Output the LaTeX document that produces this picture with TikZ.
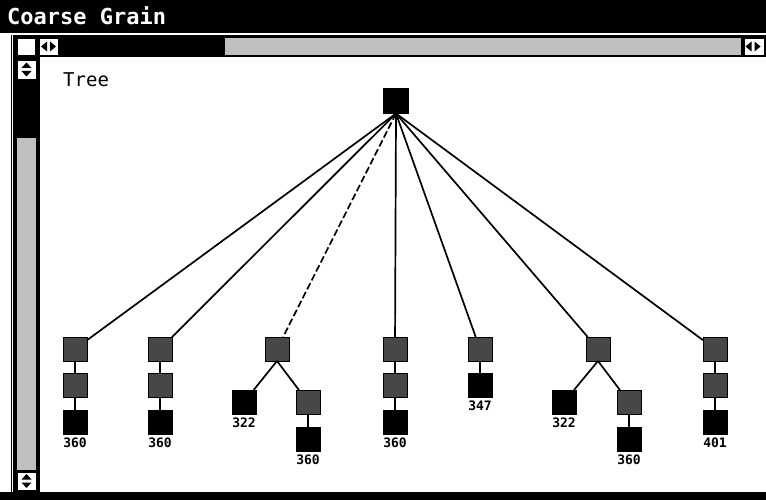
\documentclass[tikz,border=0pt]{standalone}
\usepackage{fontspec}
\newfontfamily\monofam{DejaVu Sans Mono}
\begin{document}
\begin{tikzpicture}[x=1pt,y=-1pt,
  box/.style={draw=black,line width=0.8pt,minimum size=24pt,inner sep=0pt,outer sep=0pt},
  blk/.style={box,fill=black},
  dith/.style={box,fill=black!72},
  lbl/.style={font=\monofam\bfseries\fontsize{13}{13}\selectfont,inner sep=0pt},
  edge/.style={line width=1.7pt},
  track/.style={fill=black!25},
  sbox/.style={fill=white,draw=black,line width=0.6pt},
  tri/.style={fill=black}]
\useasboundingbox (0,0) rectangle (766,500);
\fill[white] (0,0) rectangle (766,500);
% title bar
\fill[black] (0,0) rectangle (766,33);
\node[anchor=west,text=white,font=\monofam\bfseries\fontsize{22}{22}\selectfont,inner sep=0pt] (title) at (7,16) {Coarse Grain};
% horizontal scrollbar
\fill[black] (13,35) rectangle (766,57);
\draw[sbox] (17,38) rectangle (35,55);
\draw[sbox] (39,38) rectangle (58,55);
\fill[tri] (41,46.5) -- (47,41.5) -- (47,51.5) -- cycle;
\fill[tri] (50,41.5) -- (56,46.5) -- (50,51.5) -- cycle;
\fill[track] (225,38) rectangle (741,55);
\draw[sbox] (744,38) rectangle (764,55);
\fill[tri] (745.5,46.5) -- (751.5,41.5) -- (751.5,51.5) -- cycle;
\fill[tri] (754.5,41.5) -- (760.5,46.5) -- (754.5,51.5) -- cycle;
% vertical scrollbar
\fill[black] (13,57) rectangle (40,500);
\draw[line width=1pt] (11,35) -- (11,500);
\draw[sbox] (17,60) rectangle (36,79);
\fill[tri] (21.5,68) -- (26.5,62.5) -- (31.5,68) -- cycle;
\fill[tri] (21.5,71) -- (26.5,76.5) -- (31.5,71) -- cycle;
\fill[track] (17,138) rectangle (36,470);
\draw[sbox] (17,472) rectangle (36,490);
\fill[tri] (21.5,479.5) -- (26.5,474) -- (31.5,479.5) -- cycle;
\fill[tri] (21.5,482.5) -- (26.5,488) -- (31.5,482.5) -- cycle;
% bottom band
\fill[black] (0,492) rectangle (766,500);
% label
\node[anchor=west,font=\monofam\fontsize{19}{19}\selectfont,inner sep=0pt] (tree) at (63,80) {Tree};
% tree
\node[blk,minimum size=25pt] (r) at (396,101) {};
\node[dith] (a1) at (75,349) {};
\node[dith] (a2) at (160,349) {};
\node[dith] (a3) at (277,349) {};
\node[dith] (a4) at (395,349) {};
\node[dith] (a5) at (480,349) {};
\node[dith] (a6) at (598,349) {};
\node[dith] (a7) at (715,349) {};
\node[dith] (b1) at (75,385) {};
\node[blk,label={[lbl,label distance=4pt]below:360}] (c1) at (75,422) {};
\node[dith] (b2) at (160,385) {};
\node[blk,label={[lbl,label distance=4pt]below:360}] (c2) at (160,422) {};
\node[blk,label={[lbl,label distance=4pt]below:322}] (b3l) at (244,402) {};
\node[dith] (b3r) at (308,402) {};
\node[blk,label={[lbl,label distance=4pt]below:360}] (c3) at (308,439) {};
\node[dith] (b4) at (395,385) {};
\node[blk,label={[lbl,label distance=4pt]below:360}] (c4) at (395,422) {};
\node[blk,label={[lbl,label distance=4pt]below:347}] (b5) at (480,385) {};
\node[blk,label={[lbl,label distance=4pt]below:322}] (b6l) at (564,402) {};
\node[dith] (b6r) at (629,402) {};
\node[blk,label={[lbl,label distance=4pt]below:360}] (c6) at (629,439) {};
\node[dith] (b7) at (715,385) {};
\node[blk,label={[lbl,label distance=4pt]below:401}] (c7) at (715,422) {};
% edges
\draw[edge] (r.south) -- (a1);
\draw[edge] (r.south) -- (a2);
\draw[edge,dash pattern=on 7pt off 3pt] (r.south) -- (a3);
\draw[edge] (r.south) -- (a4);
\draw[edge] (r.south) -- (a5);
\draw[edge] (r.south) -- (a6);
\draw[edge] (r.south) -- (a7);
\draw[edge] (a1) -- (b1);
\draw[edge] (b1) -- (c1);
\draw[edge] (a2) -- (b2);
\draw[edge] (b2) -- (c2);
\draw[edge] (a3.south) -- (b3l);
\draw[edge] (a3.south) -- (b3r);
\draw[edge] (b3r) -- (c3);
\draw[edge] (a4) -- (b4);
\draw[edge] (b4) -- (c4);
\draw[edge] (a5) -- (b5);
\draw[edge] (a6.south) -- (b6l);
\draw[edge] (a6.south) -- (b6r);
\draw[edge] (b6r) -- (c6);
\draw[edge] (a7) -- (b7);
\draw[edge] (b7) -- (c7);
\end{tikzpicture}
\end{document}
